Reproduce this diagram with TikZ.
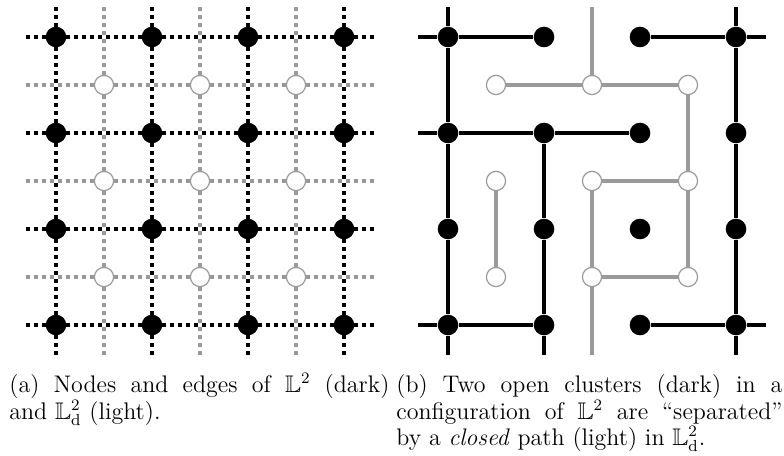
\documentclass[tikz,border=0pt]{standalone}
\usepackage{amsmath,amssymb}
\usepackage{tikz}
\usetikzlibrary{positioning,calc}
\pgfdeclarelayer{bg}
\pgfsetlayers{bg,main}

\begin{document}
\begin{tikzpicture}[x=48pt,y=48pt,
	dark node/.style={circle,inner sep=0pt,fill=black,minimum size=10.3pt},
	light node/.style={circle,inner sep=0pt,fill=white,draw=black!40,line width=.6pt,
		minimum size=9.6pt},
	dark dots/.style={line width=1.8pt,black,dash pattern=on 1.8pt off 2.2pt},
	light dots/.style={line width=1.8pt,black!40,dash pattern=on 1.8pt off 2.2pt},
	dark bond/.style={line width=1.9pt,black},
	light bond/.style={line width=1.9pt,black!40},
	caption/.style={anchor=base west,inner sep=0pt,align=justify,
		font=\fontsize{12}{11.6}\selectfont}]

    \useasboundingbox (-0.5833,0.3854) rectangle (7.5833,-4.3542);

    % (a) nodes of both lattices
    \foreach \i in {0,...,3}
    \foreach \j in {0,...,3}
        \node[dark node] (a\i\j) at (\i,-\j) {};
    \foreach \i in {0,1,2}
    \foreach \j in {0,1,2}
        \node[light node] (ad\i\j) at (\i+.5,-\j-.5) {};

    % (b) nodes of both lattices
    \foreach \i in {0,...,3}
    \foreach \j in {0,...,3}
        \node[dark node] (b\i\j) at (\i+4.0833,-\j) {};
    \foreach \i in {0,1,2}
    \foreach \j in {0,1,2}
        \node[light node] (bd\i\j) at (\i+4.5833,-\j-.5) {};

    % loose ends of the lines
    \foreach \k in {0,...,3} {
        \coordinate (aW\k) at (-.31,-\k);
        \coordinate (aE\k) at (3.31,-\k);
        \coordinate (aN\k) at (\k,.31);
        \coordinate (aS\k) at (\k,-3.31);
        \coordinate (bW\k) at (3.7733,-\k);
        \coordinate (bE\k) at (7.3933,-\k);
        \coordinate (bN\k) at (\k+4.0833,.31);
        \coordinate (bS\k) at (\k+4.0833,-3.31);
    }
    \foreach \k in {0,1,2} {
        \coordinate (adW\k) at (-.31,-\k-.5);
        \coordinate (adE\k) at (3.31,-\k-.5);
        \coordinate (adN\k) at (\k+.5,.31);
        \coordinate (adS\k) at (\k+.5,-3.31);
    }
    \coordinate (bdN1) at (5.5833,.31);
    \coordinate (bdS1) at (5.5833,-3.31);

    \begin{pgfonlayer}{bg}
    \foreach \k in {0,1,2} {
        \draw[light dots] (adW\k) -- (ad0\k.center) -- (ad1\k.center) -- (ad2\k.center) -- (adE\k);
        \draw[light dots] (adN\k) -- (ad\k0.center) -- (ad\k1.center) -- (ad\k2.center) -- (adS\k);
    }
    \foreach \k in {0,...,3} {
        \draw[dark dots] (aW\k) -- (a0\k.center) -- (a1\k.center) -- (a2\k.center) -- (a3\k.center) -- (aE\k);
        \draw[dark dots] (aN\k) -- (a\k0.center) -- (a\k1.center) -- (a\k2.center) -- (a\k3.center) -- (aS\k);
    }

    \path[dark bond]
	(b00) edge (bW0)
	(b00) edge (b10)
	(b20) edge (b30)
	(b30) edge (bE0)
	(b00) edge (bN0)
	(b00) edge (b01)
	(b01) edge (b02)
	(b02) edge (b03)
	(b03) edge (bS0)
	(b01) edge (bW1)
	(b01) edge (b11)
	(b11) edge (b21)
	(b11) edge (b12)
	(b12) edge (b13)
	(b13) edge (bS1)
	(b03) edge (bW3)
	(b03) edge (b13)
	(b23) edge (b33)
	(b33) edge (bE3)
	(b30) edge (bN3)
	(b30) edge (b31)
	(b31) edge (b32)
	(b32) edge (b33)
	(b33) edge (bS3)
	;

    \path[light bond]
	(bd00) edge (bd10)
	(bd10) edge (bd20)
	(bd10) edge (bdN1)
	(bd20) edge (bd21)
	(bd11) edge (bd21)
	(bd21) edge (bd22)
	(bd11) edge (bd12)
	(bd12) edge (bd22)
	(bd12) edge (bdS1)
	(bd01) edge (bd02)
	;
    \end{pgfonlayer}

    \node[caption,text width=190pt] (capA) at (-.4896,-3.70)
	{(a) Nodes and edges of $\mathbb{L}^2$ (dark)\linebreak and $\mathbb{L}^2_{\mathrm{d}}$ (light).};
    \node[caption,text width=193pt] (capB) at (3.5417,-3.70)
	{(b) Two open clusters (dark) in a\linebreak configuration of $\mathbb{L}^2$ are ``separated''\linebreak
	by a \emph{closed} path (light) in $\mathbb{L}^2_{\mathrm{d}}$.};

\end{tikzpicture}
\end{document}
